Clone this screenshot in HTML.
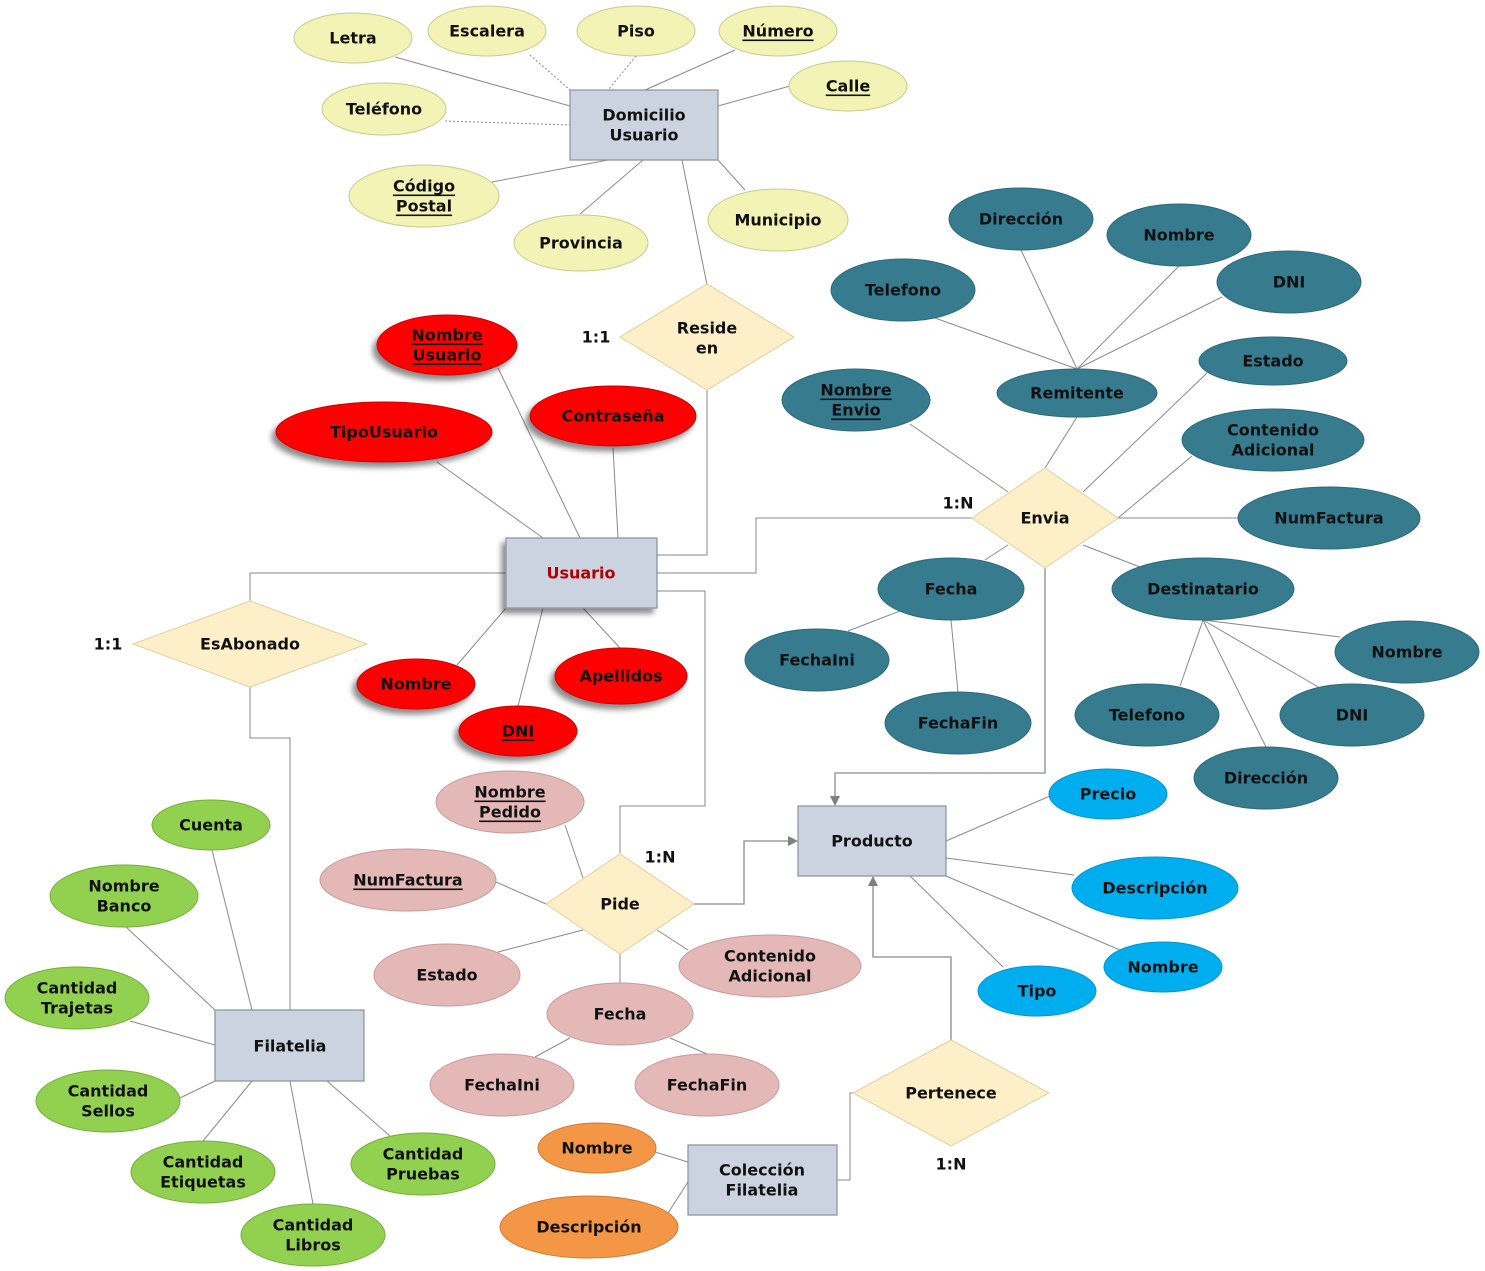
<!DOCTYPE html>
<html><head><meta charset="utf-8"><style>
html,body{margin:0;padding:0;background:#fff;}
svg{display:block;font-family:"DejaVu Sans","Liberation Sans",sans-serif;font-weight:bold;font-size:16px;}
.l{stroke:#8a8a8a;stroke-width:1;fill:none;}
.d{stroke:#8a8a8a;stroke-width:1;fill:none;stroke-dasharray:2,2;}
.c{stroke:#8a8a8a;stroke-width:1.3;fill:none;}
text{text-anchor:middle;dominant-baseline:central;fill:#111;}
.y{fill:#f3f3b5;stroke:#c9c98e;}
.r{fill:#ff0000;stroke:#cc0000;}
.t{fill:#367b8e;stroke:#2d6a7a;}
.b{fill:#00aeef;stroke:#0096cc;}
.o{fill:#f39646;stroke:#d07a30;}
.p{fill:#e5b8b8;stroke:#c79a9a;}
.g{fill:#92d050;stroke:#74ad3a;}
.e{fill:#cbd3e0;stroke:#8b9099;stroke-width:1.2;}
.dm{fill:#fdefc8;stroke:#e0d0a0;}
</style></head><body>
<svg width="1485" height="1271" viewBox="0 0 1485 1271" xmlns="http://www.w3.org/2000/svg">
<defs>
<filter id="sh" x="-20%" y="-20%" width="150%" height="160%"><feDropShadow dx="-4" dy="5" stdDeviation="3" flood-color="#000" flood-opacity="0.45"/></filter>
<marker id="ar" markerWidth="10" markerHeight="10" refX="9" refY="5" orient="auto" markerUnits="userSpaceOnUse"><path d="M0,0 L10,5 L0,10 z" fill="#808080"/></marker>
</defs>

<!-- connectors -->
<g class="l">
<line x1="395" y1="57" x2="570" y2="106"/>
<line x1="735" y1="50" x2="645" y2="90"/>
<line x1="790" y1="86" x2="718" y2="106"/>
<line x1="492" y1="182" x2="608" y2="160"/>
<line x1="580" y1="214" x2="643" y2="160"/>
<line x1="745" y1="190" x2="718" y2="160"/>
<line x1="707" y1="285" x2="682" y2="160"/>
<polyline points="707,390 707,555 657,555"/>
<line x1="498" y1="368" x2="580" y2="538"/>
<line x1="437" y1="462" x2="543" y2="538"/>
<line x1="613" y1="448" x2="618" y2="538"/>
<line x1="457" y1="665" x2="506" y2="608"/>
<line x1="518" y1="706" x2="543" y2="608"/>
<line x1="620" y1="648" x2="583" y2="608"/>
<polyline points="506,573 250,573 250,601"/>
<polyline points="250,687 250,738 290,738 290,1010"/>
<polyline points="657,573 756,573 756,518 972,518"/>
<polyline points="657,591 705,591 705,806 620,806 620,853"/>
<line x1="1021" y1="250" x2="1077" y2="369"/>
<line x1="1179" y1="266" x2="1077" y2="369"/>
<line x1="1222" y1="297" x2="1077" y2="369"/>
<line x1="935" y1="318" x2="1077" y2="369"/>
<line x1="1077" y1="417" x2="1045" y2="468"/>
<line x1="910" y1="424" x2="1008" y2="492"/>
<line x1="1207" y1="373" x2="1083" y2="492"/>
<line x1="1192" y1="456" x2="1118" y2="518"/>
<line x1="1118" y1="518" x2="1238" y2="518"/>
<line x1="1140" y1="567" x2="1083" y2="545"/>
<line x1="985" y1="560" x2="1008" y2="545"/>
<line x1="900" y1="611" x2="848" y2="631"/>
<line x1="951" y1="620" x2="958" y2="692"/>
<line x1="1203" y1="620" x2="1340" y2="637"/>
<line x1="1203" y1="620" x2="1320" y2="688"/>
<line x1="1203" y1="620" x2="1266" y2="747"/>
<line x1="1203" y1="620" x2="1180" y2="686"/>
<line x1="1050" y1="796" x2="946" y2="841"/>
<line x1="1074" y1="875" x2="946" y2="858"/>
<line x1="1120" y1="950" x2="946" y2="876"/>
<line x1="1003" y1="967" x2="910" y2="876"/>
<polyline points="853,1093 850,1093 850,1180 837,1180"/>
<line x1="655" y1="1152" x2="688" y2="1162"/>
<line x1="668" y1="1213" x2="688" y2="1182"/>
<line x1="565" y1="825" x2="583" y2="878"/>
<line x1="496" y1="882" x2="546" y2="904"/>
<line x1="498" y1="952" x2="583" y2="930"/>
<line x1="688" y1="950" x2="657" y2="930"/>
<line x1="620" y1="983" x2="620" y2="954"/>
<line x1="535" y1="1057" x2="570" y2="1038"/>
<line x1="707" y1="1054" x2="670" y2="1038"/>
<line x1="212" y1="850" x2="252" y2="1010"/>
<line x1="126" y1="927" x2="215" y2="1010"/>
<line x1="130" y1="1021" x2="215" y2="1045"/>
<line x1="180" y1="1098" x2="215" y2="1081"/>
<line x1="203" y1="1141" x2="252" y2="1081"/>
<line x1="313" y1="1204" x2="290" y2="1081"/>
<line x1="390" y1="1136" x2="327" y2="1081"/>
</g>
<g class="d">
<line x1="530" y1="55" x2="570" y2="90"/>
<line x1="636" y1="56" x2="608" y2="90"/>
<line x1="445" y1="121" x2="570" y2="125"/>
</g>
<g class="c">
<polyline points="1045,568 1045,773 835,773 835,805" marker-end="url(#ar)"/>
<polyline points="694,904 744,904 744,841 797,841" marker-end="url(#ar)"/>
<polyline points="951,1040 951,957 873,957 873,877" marker-end="url(#ar)"/>
</g>

<!-- yellow -->
<ellipse class="y" cx="353" cy="38" rx="59" ry="25"/><text x="353" y="38">Letra</text>
<ellipse class="y" cx="487" cy="31" rx="59" ry="25"/><text x="487" y="31">Escalera</text>
<ellipse class="y" cx="636" cy="31" rx="59" ry="25"/><text x="636" y="31">Piso</text>
<ellipse class="y" cx="778" cy="31" rx="59" ry="25"/><text x="778" y="31" text-decoration="underline">Número</text>
<ellipse class="y" cx="848" cy="86" rx="59" ry="25"/><text x="848" y="86" text-decoration="underline">Calle</text>
<ellipse class="y" cx="384" cy="109" rx="62" ry="26"/><text x="384" y="109">Teléfono</text>
<ellipse class="y" cx="424" cy="196" rx="75" ry="31"/><text x="424" y="186" text-decoration="underline">Código</text><text x="424" y="206" text-decoration="underline">Postal</text>
<ellipse class="y" cx="581" cy="243" rx="67" ry="28"/><text x="581" y="243">Provincia</text>
<ellipse class="y" cx="778" cy="220" rx="70" ry="31"/><text x="778" y="220">Municipio</text>
<rect class="e" x="570" y="90" width="148" height="70"/><text x="644" y="115">Domicilio</text><text x="644" y="135">Usuario</text>

<polygon class="dm" points="620,337 707,284 794,337 707,390"/><text x="707" y="328">Reside</text><text x="707" y="348">en</text>
<text x="596" y="337">1:1</text>

<!-- red -->
<g filter="url(#sh)">
<ellipse class="r" cx="447" cy="345" rx="70" ry="30"/>
<ellipse class="r" cx="384" cy="432" rx="108" ry="30"/>
<ellipse class="r" cx="613" cy="416" rx="83" ry="30"/>
<ellipse class="r" cx="416" cy="684" rx="59" ry="25"/>
<ellipse class="r" cx="621" cy="676" rx="66" ry="28"/>
<ellipse class="r" cx="518" cy="731" rx="59" ry="25"/>
<rect class="e" x="506" y="538" width="151" height="70"/>
</g>
<text x="447" y="335" text-decoration="underline">Nombre</text><text x="447" y="355" text-decoration="underline">Usuario</text>
<text x="384" y="432">TipoUsuario</text>
<text x="613" y="416">Contraseña</text>
<text x="416" y="684">Nombre</text>
<text x="621" y="676">Apellidos</text>
<text x="518" y="731" text-decoration="underline">DNI</text>
<text x="581" y="573" style="fill:#b00000">Usuario</text>

<polygon class="dm" points="133,644 250,601 367,644 250,687"/><text x="250" y="644">EsAbonado</text>
<text x="108" y="644">1:1</text>

<!-- teal -->
<ellipse class="t" cx="1021" cy="219" rx="72" ry="31"/><text x="1021" y="219">Dirección</text>
<ellipse class="t" cx="1179" cy="235" rx="72" ry="31"/><text x="1179" y="235">Nombre</text>
<ellipse class="t" cx="1289" cy="282" rx="72" ry="31"/><text x="1289" y="282">DNI</text>
<ellipse class="t" cx="903" cy="290" rx="72" ry="31"/><text x="903" y="290">Telefono</text>
<ellipse class="t" cx="1077" cy="393" rx="80" ry="24"/><text x="1077" y="393">Remitente</text>
<ellipse class="t" cx="1273" cy="361" rx="74" ry="24"/><text x="1273" y="361">Estado</text>
<ellipse class="t" cx="856" cy="400" rx="74" ry="31"/><text x="856" y="390" text-decoration="underline">Nombre</text><text x="856" y="410" text-decoration="underline">Envio</text>
<ellipse class="t" cx="1273" cy="440" rx="91" ry="31"/><text x="1273" y="430">Contenido</text><text x="1273" y="450">Adicional</text>
<ellipse class="t" cx="1329" cy="518" rx="91" ry="31"/><text x="1329" y="518">NumFactura</text>
<ellipse class="t" cx="951" cy="589" rx="73" ry="31"/><text x="951" y="589">Fecha</text>
<ellipse class="t" cx="1203" cy="589" rx="91" ry="31"/><text x="1203" y="589">Destinatario</text>
<ellipse class="t" cx="817" cy="660" rx="72" ry="31"/><text x="817" y="660">FechaIni</text>
<ellipse class="t" cx="958" cy="723" rx="73" ry="31"/><text x="958" y="723">FechaFin</text>
<ellipse class="t" cx="1407" cy="652" rx="72" ry="31"/><text x="1407" y="652">Nombre</text>
<ellipse class="t" cx="1147" cy="715" rx="72" ry="31"/><text x="1147" y="715">Telefono</text>
<ellipse class="t" cx="1352" cy="715" rx="72" ry="31"/><text x="1352" y="715">DNI</text>
<ellipse class="t" cx="1266" cy="778" rx="72" ry="31"/><text x="1266" y="778">Dirección</text>

<polygon class="dm" points="972,518 1045,468 1118,518 1045,568"/><text x="1045" y="518">Envia</text>
<text x="958" y="503">1:N</text>

<!-- producto -->
<rect class="e" x="798" y="806" width="148" height="70"/><text x="872" y="841">Producto</text>
<ellipse class="b" cx="1108" cy="794" rx="59" ry="25"/><text x="1108" y="794">Precio</text>
<ellipse class="b" cx="1155" cy="888" rx="83" ry="31"/><text x="1155" y="888">Descripción</text>
<ellipse class="b" cx="1163" cy="967" rx="59" ry="25"/><text x="1163" y="967">Nombre</text>
<ellipse class="b" cx="1037" cy="991" rx="59" ry="25"/><text x="1037" y="991">Tipo</text>

<polygon class="dm" points="853,1093 951,1040 1049,1093 951,1146"/><text x="951" y="1093">Pertenece</text>
<text x="951" y="1164">1:N</text>

<rect class="e" x="688" y="1145" width="149" height="70"/><text x="762" y="1170">Colección</text><text x="762" y="1190">Filatelia</text>
<ellipse class="o" cx="597" cy="1148" rx="59" ry="25"/><text x="597" y="1148">Nombre</text>
<ellipse class="o" cx="589" cy="1227" rx="89" ry="31"/><text x="589" y="1227">Descripción</text>

<!-- pide -->
<ellipse class="p" cx="510" cy="802" rx="74" ry="31"/><text x="510" y="792" text-decoration="underline">Nombre</text><text x="510" y="812" text-decoration="underline">Pedido</text>
<ellipse class="p" cx="408" cy="880" rx="88" ry="31"/><text x="408" y="880" text-decoration="underline">NumFactura</text>
<ellipse class="p" cx="447" cy="975" rx="73" ry="31"/><text x="447" y="975">Estado</text>
<ellipse class="p" cx="770" cy="966" rx="91" ry="31"/><text x="770" y="956">Contenido</text><text x="770" y="976">Adicional</text>
<ellipse class="p" cx="620" cy="1014" rx="73" ry="31"/><text x="620" y="1014">Fecha</text>
<ellipse class="p" cx="502" cy="1085" rx="72" ry="31"/><text x="502" y="1085">FechaIni</text>
<ellipse class="p" cx="707" cy="1085" rx="72" ry="31"/><text x="707" y="1085">FechaFin</text>
<polygon class="dm" points="546,904 620,854 694,904 620,954"/><text x="620" y="904">Pide</text>
<text x="660" y="857">1:N</text>

<!-- filatelia -->
<rect class="e" x="215" y="1010" width="149" height="71"/><text x="290" y="1046">Filatelia</text>
<ellipse class="g" cx="211" cy="825" rx="59" ry="25"/><text x="211" y="825">Cuenta</text>
<ellipse class="g" cx="124" cy="896" rx="74" ry="31"/><text x="124" y="886">Nombre</text><text x="124" y="906">Banco</text>
<ellipse class="g" cx="77" cy="998" rx="72" ry="31"/><text x="77" y="988">Cantidad</text><text x="77" y="1008">Trajetas</text>
<ellipse class="g" cx="108" cy="1101" rx="72" ry="31"/><text x="108" y="1091">Cantidad</text><text x="108" y="1111">Sellos</text>
<ellipse class="g" cx="203" cy="1172" rx="72" ry="31"/><text x="203" y="1162">Cantidad</text><text x="203" y="1182">Etiquetas</text>
<ellipse class="g" cx="313" cy="1235" rx="72" ry="31"/><text x="313" y="1225">Cantidad</text><text x="313" y="1245">Libros</text>
<ellipse class="g" cx="423" cy="1164" rx="72" ry="31"/><text x="423" y="1154">Cantidad</text><text x="423" y="1174">Pruebas</text>
</svg>
</body></html>
